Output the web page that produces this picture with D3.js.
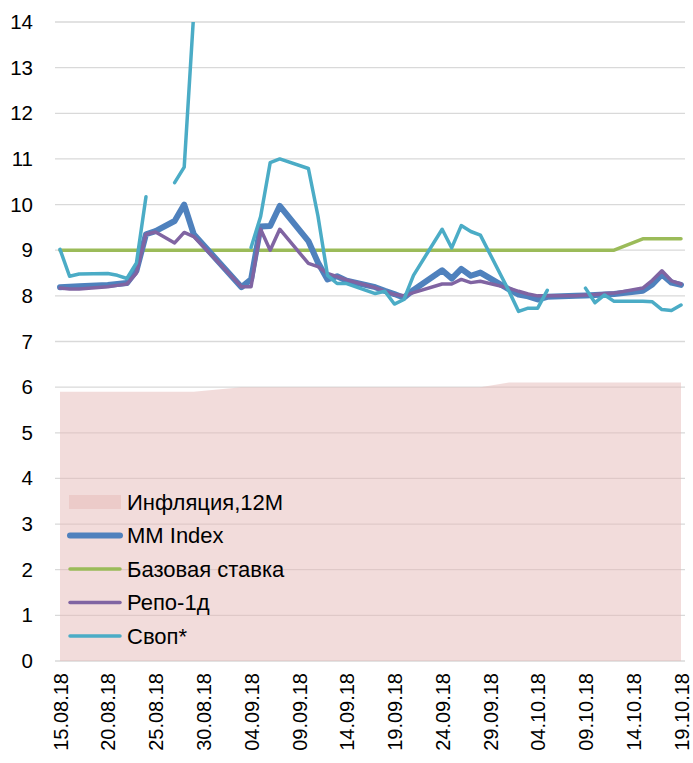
<!DOCTYPE html>
<html><head><meta charset="utf-8">
<script src="https://cdn.jsdelivr.net/npm/d3@7"></script>
<style>body{margin:0;background:#fff}svg{display:block}text{font-family:"Liberation Sans",Arial,sans-serif;fill:#000}</style>
</head><body><svg id="c" width="693" height="763"></svg>
<script>
const dates = ["15.08.18","16.08.18","17.08.18","20.08.18","21.08.18","22.08.18","23.08.18","24.08.18","25.08.18","27.08.18","28.08.18","29.08.18","03.09.18","04.09.18","05.09.18","06.09.18","07.09.18","10.09.18","11.09.18","12.09.18","13.09.18","14.09.18","17.09.18","18.09.18","19.09.18","20.09.18","21.09.18","24.09.18","25.09.18","26.09.18","27.09.18","28.09.18","01.10.18","02.10.18","03.10.18","04.10.18","05.10.18","08.10.18","09.10.18","10.10.18","11.10.18","12.10.18","15.10.18","16.10.18","17.10.18","18.10.18","19.10.18"];
const inflation = [5.9,5.9,5.9,5.9,5.9,5.9,5.9,5.9,5.9,5.9,5.9,5.9,6.0,6.0,6.0,6.0,6.0,6.0,6.0,6.0,6.0,6.0,6.0,6.0,6.0,6.0,6.0,6.0,6.0,6.0,6.0,6.0,6.1,6.1,6.1,6.1,6.1,6.1,6.1,6.1,6.1,6.1,6.1,6.1,6.1,6.1,6.1];
const mmIndex = [8.19,8.20,8.21,8.24,8.26,8.28,8.55,9.35,9.42,9.64,10.0,9.35,8.19,8.36,9.52,9.53,9.97,9.2,8.73,8.36,8.43,8.33,8.19,8.11,8.04,7.96,8.13,8.56,8.38,8.59,8.44,8.51,8.14,8.03,7.99,7.92,7.98,8.0,8.01,8.02,8.03,8.04,8.11,8.25,8.47,8.29,8.24];
const baseRate = [9,9,9,9,9,9,9,9,9,9,9,9,9,9,9,9,9,9,9,9,9,9,9,9,9,9,9,9,9,9,9,9,9,9,9,9,9,9,9,9,9,9,9.25,9.25,9.25,9.25,9.25];
const repo = [8.17,8.15,8.15,8.2,8.23,8.26,8.5,9.35,9.4,9.16,9.39,9.3,8.2,8.2,9.46,9.0,9.46,8.71,8.64,8.49,8.42,8.35,8.18,8.1,8.03,8.0,8.07,8.26,8.26,8.36,8.29,8.32,8.17,8.1,8.04,8.0,8.0,8.0,8.02,8.03,8.05,8.06,8.17,8.34,8.55,8.33,8.26];
const swap = [9.02,8.43,8.48,8.49,8.45,8.38,8.72,10.17,null,10.48,10.82,14.2,null,9.06,9.74,10.92,11.0,10.79,9.75,8.45,8.27,8.27,8.05,8.1,7.82,7.92,8.45,9.46,9.05,9.54,9.41,9.33,8.1,7.66,7.73,7.73,8.12,null,8.17,7.85,8.02,7.88,7.88,7.87,7.7,7.68,7.8];
const yTicks = [0,1,2,3,4,5,6,7,8,9,10,11,12,13,14];
const xTickLabels = ["15.08.18","20.08.18","25.08.18","30.08.18","04.09.18","09.09.18","14.09.18","19.09.18","24.09.18","29.09.18","04.10.18","09.10.18","14.10.18","19.10.18"];
const legendItems = ["Инфляция,12M","MM Index","Базовая ставка","Репо-1д","Своп*"];

const parse = d3.utcParse("%d.%m.%y");
const fmt = d3.utcFormat("%d.%m.%y");
const D = dates.map(parse);
const svg = d3.select("#c");
const x = d3.scaleUtc().domain([parse("15.08.18"), parse("19.10.18")]).range([60, 681]);
const y = d3.scaleLinear().domain([0, 14]).range([661, 22]);

svg.append("defs").append("clipPath").attr("id","clip").append("rect")
  .attr("x", 40).attr("y", y(14)).attr("width", 650).attr("height", y(0) - y(14));

// gridlines
svg.append("g").selectAll("line").data(yTicks).join("line")
  .attr("x1", 55).attr("x2", 685).attr("y1", d => y(d)).attr("y2", d => y(d))
  .attr("stroke", "#d9d9d9").attr("stroke-width", 1.3);

// y labels
const yAxis = d3.axisLeft(y).tickValues(yTicks).tickSize(0).tickPadding(0).tickFormat(d3.format("d"));
const ya = svg.append("g").attr("transform", "translate(33,0)").call(yAxis);
ya.select(".domain").remove();
ya.selectAll("text").attr("font-size", 20.5).attr("font-family", "Liberation Sans, Arial, sans-serif").attr("fill", "#000");

// x labels
const xAxis = d3.axisBottom(x).tickValues(xTickLabels.map(parse)).tickSize(0).tickFormat(fmt);
const xa = svg.append("g").attr("transform", "translate(0,661)").call(xAxis);
xa.select(".domain").remove();
xa.selectAll("text").attr("font-size", 20).attr("font-family", "Liberation Sans, Arial, sans-serif").attr("fill", "#000")
  .attr("text-anchor", "end").attr("transform", "rotate(-90)").attr("x", -12).attr("y", 0).attr("dy", "0.36em");

// inflation area
const area = d3.area().x((d, i) => x(D[i])).y0(y(0)).y1(d => y(d));
svg.append("path").datum(inflation).attr("d", area).attr("fill", "#e6b9b8").attr("fill-opacity", 0.5);

const series = [
  {v: baseRate, c: "#9bbb59", w: 3.5},
  {v: mmIndex, c: "#4f81bd", w: 6},
  {v: repo, c: "#8064a2", w: 3.5},
  {v: swap, c: "#4bacc6", w: 3.5}
];
const line = d3.line().defined(d => d != null).x((d, i) => x(D[i])).y(d => y(d));
const lg = svg.append("g").attr("clip-path", "url(#clip)");
series.forEach(s => {
  lg.append("path").datum(s.v).attr("d", line).attr("fill", "none").attr("stroke", s.c)
    .attr("stroke-width", s.w).attr("stroke-linejoin", "round").attr("stroke-linecap", "round");
});

// legend
const leg = svg.append("g");
const ly = [502, 535.5, 569, 602.5, 636];
const legSw = [null, {c:"#4f81bd", w:6}, {c:"#9bbb59", w:3.5}, {c:"#8064a2", w:3.5}, {c:"#4bacc6", w:3.5}];
leg.append("rect").attr("x", 69).attr("y", ly[0] - 7).attr("width", 52).attr("height", 14).attr("fill", "#e6b9b8").attr("fill-opacity", 0.5);
legSw.forEach((s, i) => {
  if (!s) return;
  leg.append("line").attr("x1", 70).attr("x2", 120).attr("y1", ly[i]).attr("y2", ly[i])
    .attr("stroke", s.c).attr("stroke-width", s.w).attr("stroke-linecap", "round");
});
leg.selectAll("text").data(legendItems).join("text")
  .attr("x", 127).attr("y", (d, i) => ly[i]).attr("dy", "0.36em").attr("font-size", 22).text(d => d);
</script></body></html>
